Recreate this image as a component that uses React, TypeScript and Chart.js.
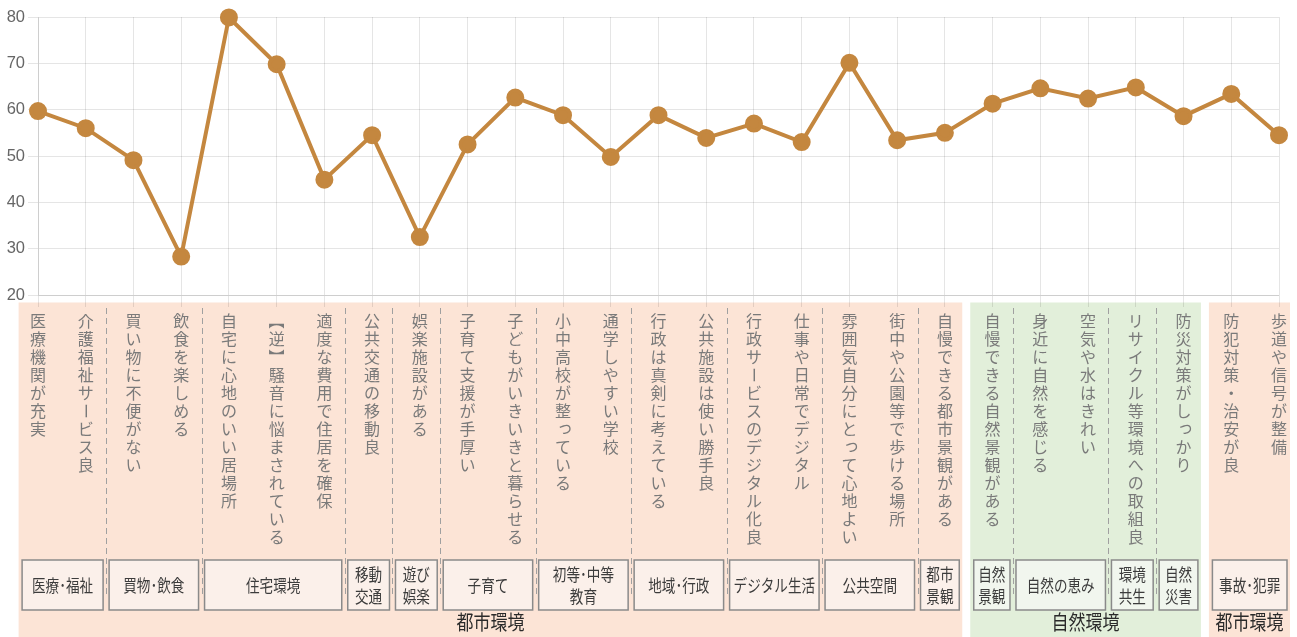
import React, { useEffect, useRef } from 'react';
import { Chart, registerables } from 'chart.js';

Chart.register(...registerables);

// ---- data ----
const categories: string[] = [
  '医療機関が充実',
  '介護福祉サービス良',
  '買い物に不便がない',
  '飲食を楽しめる',
  '自宅に心地のいい居場所',
  '【逆】騒音に悩まされている',
  '適度な費用で住居を確保',
  '公共交通の移動良',
  '娯楽施設がある',
  '子育て支援が手厚い',
  '子どもがいきいきと暮らせる',
  '小中高校が整っている',
  '通学しやすい学校',
  '行政は真剣に考えている',
  '公共施設は使い勝手良',
  '行政サービスのデジタル化良',
  '仕事や日常でデジタル',
  '雰囲気自分にとって心地よい',
  '街中や公園等で歩ける場所',
  '自慢できる都市景観がある',
  '自慢できる自然景観がある',
  '身近に自然を感じる',
  '空気や水はきれい',
  'リサイクル等環境への取組良',
  '防災対策がしっかり',
  '防犯対策・治安が良',
  '歩道や信号が整備',
];

const scores: number[] = [
  59.7, 56.0, 49.1, 28.3, 79.9, 69.8, 44.9, 54.5, 32.5,
  52.5, 62.6, 58.8, 49.8, 58.8, 53.9, 57.0, 53.0, 70.1,
  53.4, 55.0, 61.3, 64.6, 62.4, 64.8, 58.6, 63.4, 54.5,
];

const yMin = 20;
const yMax = 80;
const yStep = 10;

const subGroupLabels: string[] = [
  '医療･福祉', '買物･飲食', '住宅環境', '移動\n交通', '遊び\n娯楽', '子育て',
  '初等･中等\n教育', '地域･行政', 'デジタル生活', '公共空間', '都市\n景観',
  '自然\n景観', '自然の恵み', '環境\n共生', '自然\n災害', '事故･犯罪',
];
const subGroupSizes: number[] = [2, 2, 3, 1, 1, 2, 2, 2, 2, 2, 1, 1, 2, 1, 1, 2];

const groupLabels: string[] = ['都市環境', '自然環境', '都市環境'];
const groupSizes: number[] = [20, 5, 2];

// ---- styles ----
const LINE_COLOR = '#C4873F';
const GROUP_BG: Record<string, string> = { '都市環境': '#FCE4D6', '自然環境': '#E2EFDA' };
const GROUP_BOX: Record<string, string> = { '都市環境': '#FBF0EA', '自然環境': '#F1F6EE' };
const JP_FONT = '"Noto Sans CJK JP", "Noto Sans", sans-serif';

const ROTATE_CHARS = new Set(['ー', '【', '】']);
const SMALL_KANA = new Set(Array.from('っゃゅょぁぃぅぇぉッャュョァィゥェォ'));

function drawCondensed(ctx: CanvasRenderingContext2D, text: string, x: number, y: number, sx: number) {
  ctx.save();
  ctx.translate(x, y);
  ctx.scale(sx, 1);
  ctx.fillText(text, 0, 0);
  ctx.restore();
}

const labelAreaPlugin = {
  id: 'labelArea',
  beforeDraw(chart: any) {
    const ctx: CanvasRenderingContext2D = chart.ctx;
    const xs = chart.scales.x;
    const area = chart.chartArea;
    const base = area.bottom;
    const H = chart.height;
    const px = (i: number) => xs.getPixelForValue(i);
    const mid = (i: number) => (px(i) + px(i + 1)) / 2;

    // group extents
    const groups: { left: number; right: number; start: number; end: number; name: string }[] = [];
    let s = 0;
    groupSizes.forEach((size, g) => {
      const e = s + size - 1;
      const left = g === 0 ? px(s) - 19.4 : mid(s - 1) - 2.5 + 4;
      const right = g === groupSizes.length - 1 ? px(e) + 11 : mid(e) - 2.5 - 4;
      groups.push({ left, right, start: s, end: e, name: groupLabels[g] });
      s += size;
    });
    const groupOf = (i: number) => groups.find((g) => i >= g.start && i <= g.end)!;

    ctx.save();
    // backgrounds
    groups.forEach((g) => {
      ctx.fillStyle = GROUP_BG[g.name];
      ctx.fillRect(g.left, base + 7.5, g.right - g.left, H - (base + 7.5));
    });

    // dashed separators
    ctx.strokeStyle = '#A0A0A0';
    ctx.lineWidth = 1;
    ctx.setLineDash([6, 4]);
    let st = 0;
    subGroupSizes.forEach((size) => {
      const e = st + size - 1;
      const g = groupOf(e);
      if (e !== g.end) {
        const x = Math.round(mid(e) - 3.5) + 0.5;
        ctx.beginPath();
        ctx.moveTo(x, base + 13);
        ctx.lineTo(x, base + 303);
        ctx.stroke();
      }
      st += size;
    });
    ctx.setLineDash([]);

    // vertical category labels
    ctx.fillStyle = '#7A7A7A';
    ctx.font = `16px ${JP_FONT}`;
    ctx.textAlign = 'center';
    ctx.textBaseline = 'middle';
    categories.forEach((label, i) => {
      const x = px(i);
      Array.from(label).forEach((ch, j) => {
        const cy = base + 26 + j * 18;
        if (ROTATE_CHARS.has(ch)) {
          ctx.save();
          ctx.translate(x, cy);
          ctx.rotate(Math.PI / 2);
          ctx.fillText(ch, 0, 0);
          ctx.restore();
        } else if (SMALL_KANA.has(ch)) {
          ctx.fillText(ch, x + 2, cy - 2.5);
        } else {
          ctx.fillText(ch, x, cy);
        }
      });
    });

    // sub-group boxes
    st = 0;
    subGroupSizes.forEach((size, k) => {
      const e = st + size - 1;
      const g = groupOf(st);
      const left = st === g.start ? g.left + 3.5 : mid(st - 1) - 3.5 + 3;
      const right = e === g.end ? g.right - 3 : mid(e) - 3.5 - 3;
      const top = base + 265;
      const bottom = base + 315;
      ctx.fillStyle = GROUP_BOX[g.name];
      ctx.fillRect(left, top, right - left, bottom - top);
      ctx.strokeStyle = '#8A8A8A';
      ctx.lineWidth = 1.5;
      ctx.strokeRect(left, top, right - left, bottom - top);
      ctx.fillStyle = '#3C3C3C';
      ctx.font = `17px ${JP_FONT}`;
      const lines = subGroupLabels[k].split('\n');
      const cx = (left + right) / 2;
      const cy = (top + bottom) / 2;
      if (lines.length === 1) {
        drawCondensed(ctx, lines[0], cx, cy + 0.5, 0.8);
      } else {
        drawCondensed(ctx, lines[0], cx, cy - 10, 0.8);
        drawCondensed(ctx, lines[1], cx, cy + 11.5, 0.8);
      }
      st += size;
    });

    // group titles
    ctx.fillStyle = '#2A2A2A';
    ctx.font = `20px ${JP_FONT}`;
    groups.forEach((g) => {
      drawCondensed(ctx, g.name, (g.left + g.right) / 2, base + 327, 0.85);
    });
    ctx.restore();
  },
};

export default function App() {
  const canvasRef = useRef<HTMLCanvasElement | null>(null);

  useEffect(() => {
    if (!canvasRef.current) return;
    const chart = new Chart(canvasRef.current, {
      type: 'line',
      data: {
        labels: categories,
        datasets: [
          {
            data: scores,
            borderColor: LINE_COLOR,
            backgroundColor: LINE_COLOR,
            pointBackgroundColor: LINE_COLOR,
            pointBorderColor: LINE_COLOR,
            borderWidth: 4,
            pointRadius: 7,
            pointHoverRadius: 7,
            tension: 0,
            fill: false,
            clip: false as any,
          },
        ],
      },
      options: {
        animation: false,
        responsive: true,
        maintainAspectRatio: false,
        layout: { padding: { top: 17, right: 18, left: 0, bottom: 0 } },
        plugins: { legend: { display: false }, tooltip: { enabled: false } },
        scales: {
          x: {
            ticks: { display: false },
            grid: { color: 'rgba(0,0,0,0.1)', tickLength: 12 },
            afterFit: (scale: any) => {
              scale.height = 342;
            },
          },
          y: {
            min: yMin,
            max: yMax,
            ticks: {
              stepSize: yStep,
              color: '#666',
              padding: 3,
              font: { family: '"Liberation Sans", Arial, sans-serif', size: 16.5 },
            },
            grid: { color: 'rgba(0,0,0,0.1)', tickLength: 10 },
            afterFit: (scale: any) => {
              scale.width = 38;
            },
          },
        },
      },
      plugins: [labelAreaPlugin],
    });
    return () => chart.destroy();
  }, []);

  return (
    <div style={{ position: 'absolute', left: 0, top: 0, width: 1297, height: 637, background: '#fff' }}>
      <canvas ref={canvasRef} />
    </div>
  );
}
